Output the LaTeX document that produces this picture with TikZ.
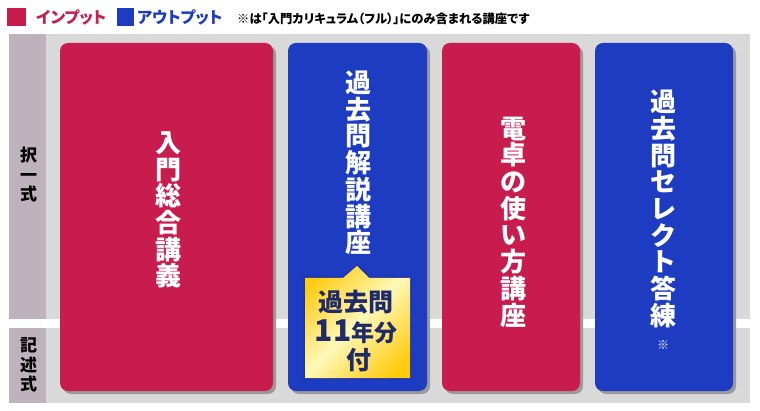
\documentclass[tikz,border=0pt]{standalone}
\usepackage{fontspec}
\setmainfont{Noto Sans CJK JP}
\newfontfamily\jpp{Noto Sans CJK JP}[RawFeature=+palt]
\usetikzlibrary{shadings}
\definecolor{inred}{HTML}{C81B4E}
\definecolor{outblue}{HTML}{1E3CC2}
\definecolor{bggray}{HTML}{D9D9D9}
\definecolor{colgray}{HTML}{BEB2BC}
\definecolor{shgray}{HTML}{9A9A9A}
\definecolor{navy}{HTML}{1F2A6B}
\definecolor{gold}{HTML}{FFCC10}
\definecolor{pale}{HTML}{FFF8B8}
\pgfdeclarehorizontalshading{badgeshade}{100bp}{color(0bp)=(gold); color(22bp)=(gold); color(50bp)=(pale); color(78bp)=(gold); color(100bp)=(gold)}
\tikzset{
  card/.style={rounded corners=8pt},
  vtext/.style={align=center, inner sep=0pt, text=white, font=\fontsize{26}{26.7}\selectfont\bfseries},
  coltext/.style={align=center, inner sep=0pt, text=black, font=\fontsize{17}{19.5}\selectfont\bfseries},
  legtext/.style={anchor=west, inner sep=0pt, font=\jpp\fontsize{16}{16}\selectfont\bfseries},
  badgetext/.style={inner sep=0pt, text=navy, font=\fontsize{25}{25}\selectfont\bfseries}
}
\begin{document}
\begin{tikzpicture}[x=1pt,y=-1pt]
\useasboundingbox (0,0) rectangle (760,411);
\fill[white] (0,0) rectangle (760,411);
% legend
\fill[inred] (7,8) rectangle (26,26);
\node[legtext, text=inred] (lin) at (36,17) {インプット};
\fill[outblue] (117,8) rectangle (134,26);
\node[legtext, text=outblue] (lout) at (137,17) {アウトプット};
\node[anchor=west, inner sep=0pt, font=\jpp\fontsize{12.3}{13}\selectfont\bfseries] (note) at (237,19) {※は「入門カリキュラム（フル）」にのみ含まれる講座です};
% background
\fill[bggray] (9,34) rectangle (750,403);
\fill[colgray] (9,34) rectangle (46,319);
\fill[colgray] (9,328) rectangle (46,403);
\fill[white] (9,319) rectangle (750,328);
\node[coltext] (c1) at (28.5,175) {択\\一\\式};
\node[coltext] (c2) at (28.5,365) {記\\述\\式};
% shadows
\foreach \a/\b in {60/273,288/427,442/580,595/733}{
  \fill[shgray, card] (\a+3,46) rectangle (\b+3,394);
}
% cards
\fill[inred, card] (60,43) rectangle (273,391);
\fill[outblue, card] (288,43) rectangle (427,391);
\fill[inred, card] (442,43) rectangle (580,391);
\fill[outblue, card] (595,43) rectangle (733,391);
\node[vtext] (t1) at (168,210) {入\\門\\総\\合\\講\\義};
\node[vtext] (t2) at (358,163) {過\\去\\問\\解\\説\\講\\座};
\node[vtext] (t3) at (513,222) {電\\卓\\の\\使\\い\\方\\講\\座};
\node[vtext] (t4) at (663,209) {過\\去\\問\\セ\\レ\\ク\\ト\\答\\練};
\node[inner sep=0pt, text=white, font=\fontsize{12}{12}\selectfont] (t4n) at (663,345) {※};
% badge
\fill[navy, opacity=0.35] (303.5,276.5) -- (343,276.5) -- (357,264) -- (371,276.5) -- (411.5,276.5) -- (411.5,379.5) -- (303.5,379.5) -- cycle;
\shade[shading=badgeshade, shading angle=-45]
  (305,278) -- (343,278) -- (357,266) -- (369,278) -- (410,278) -- (410,378) -- (305,378) -- cycle;
\node[badgetext] (b1) at (356,302) {過去問};
\node[badgetext] (b2) at (356,332) {{\fontsize{30}{30}\selectfont 11}{\fontsize{23}{23}\selectfont 年分}};
\node[badgetext] (b3) at (359,360) {付};
\end{tikzpicture}
\end{document}
